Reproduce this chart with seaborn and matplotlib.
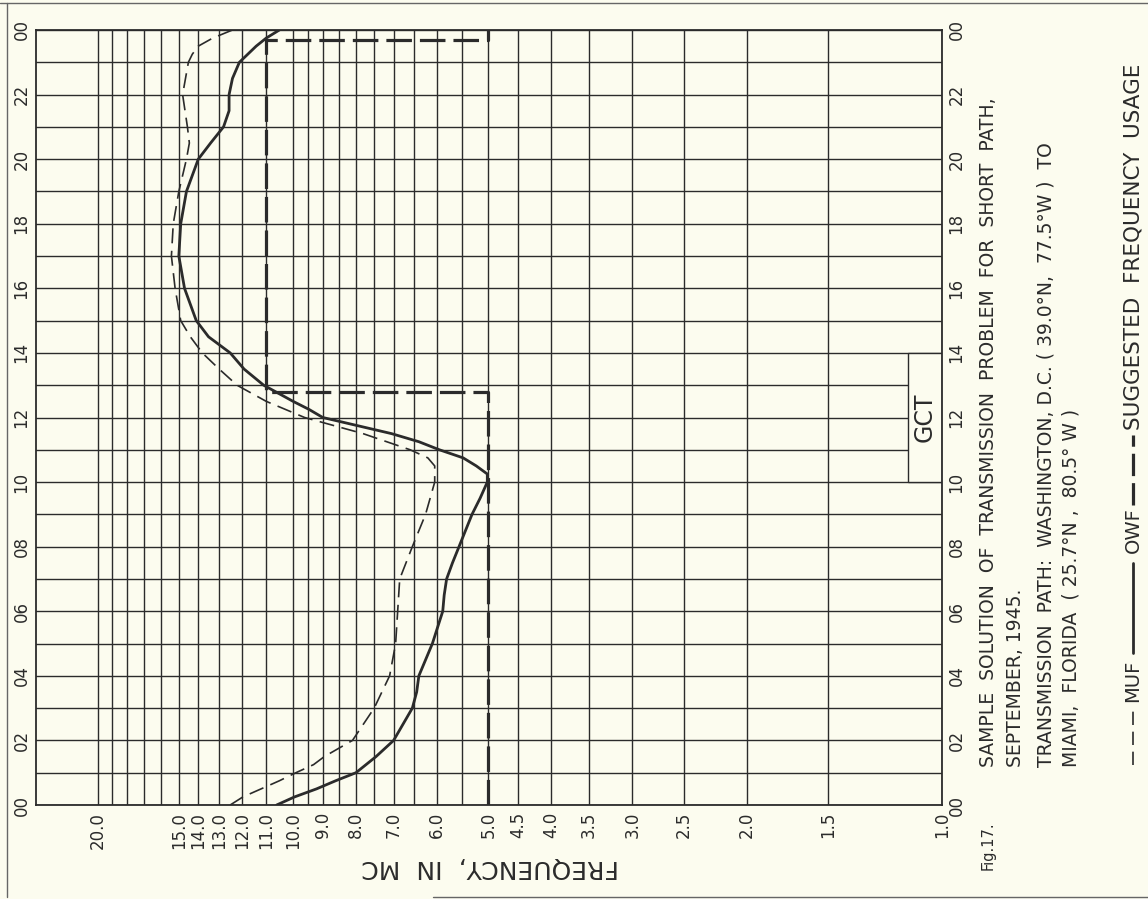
import seaborn as sns
import matplotlib.pyplot as plt
from matplotlib.lines import Line2D
from matplotlib.patches import Rectangle

# =========================
# DATA
# =========================
# OWF - solid line
owf_hours = [0, 0.25, 0.5, 0.75, 1, 1.5, 2, 3, 3.5, 4, 5, 6, 6.5, 7, 7.5, 8, 9, 9.5,
             10, 10.25, 10.5, 10.75, 11, 11.25, 11.5, 12, 12.25, 12.5, 13, 13.5,
             14, 14.5, 15, 16, 17, 18, 19, 20, 20.5, 21, 21.5, 22, 22.5, 23, 23.5,
             23.75, 24]
owf_freq = [10.6, 9.95, 9.2, 8.6, 8.0, 7.45, 7.0, 6.55, 6.45, 6.4, 6.1, 5.88, 5.85,
            5.8, 5.68, 5.55, 5.3, 5.15, 5.02, 5.02, 5.22, 5.47, 5.95, 6.4, 7.05,
            9.0, 9.45, 10.0, 11.1, 11.9, 12.5, 13.5, 14.1, 14.7, 15.0, 14.9, 14.6,
            14.0, 13.4, 12.8, 12.55, 12.55, 12.4, 12.1, 11.4, 11.0, 10.5]

# MUF - thin dashed line
muf_hours = [0, 0.25, 0.5, 0.75, 1, 1.25, 1.5, 2, 3, 4, 5, 6, 7, 8, 9, 10, 10.5,
             10.75, 11, 11.5, 12, 12.5, 13, 13.5, 14, 14.5, 15, 16, 17, 18, 19, 20,
             20.5, 21, 22, 23, 23.25, 23.5, 23.75, 24]
muf_freq = [12.5, 11.95, 11.2, 10.5, 9.9, 9.3, 8.95, 8.1, 7.5, 7.1, 6.95, 6.9, 6.85,
            6.55, 6.25, 6.05, 6.05, 6.2, 6.6, 7.8, 9.6, 11.0, 12.2, 13.0, 13.8,
            14.4, 14.9, 15.2, 15.4, 15.3, 15.0, 14.6, 14.45, 14.55, 14.8, 14.5,
            14.3, 14.0, 13.3, 12.4]

# suggested frequency usage - heavy dashed step
sfu_hours = [0, 12.8, 12.8, 23.7, 23.7, 24]
sfu_freq = [5.0, 5.0, 11.0, 11.0, 5.0, 5.0]

# grid / tick labels
freq_grid = [1.0, 1.5, 2.0, 2.5, 3.0, 3.5, 4.0, 4.5, 5.0, 5.5, 6.0, 6.5, 7.0, 7.5,
             8.0, 8.5, 9.0, 9.5, 10.0, 11.0, 12.0, 13.0, 14.0, 15.0, 16.0, 17.0,
             18.0, 19.0, 20.0]
freq_labels = ["1.0", "1.5", "2.0", "2.5", "3.0", "3.5", "4.0", "4.5", "5.0", "",
               "6.0", "", "7.0", "", "8.0", "", "9.0", "", "10.0", "11.0", "12.0",
               "13.0", "14.0", "15.0", "", "", "", "", "20.0"]
hour_ticks = list(range(25))
hour_labels = ["00", "", "02", "", "04", "", "06", "", "08", "", "10", "", "12", "",
               "14", "", "16", "", "18", "", "20", "", "22", "", "00"]

BG = "#fcfcef"
INK = "#2b2b2b"

sns.set_theme(style="white")
plt.rcParams["font.family"] = ["DejaVu Sans"]

W, H = 1148, 899
fig = plt.figure(figsize=(W / 100, H / 100), dpi=100, facecolor=BG)
ax = fig.add_axes([36 / W, 94 / H, 906 / W, 775 / H])
ax.set_facecolor(BG)

# =========================
# CURVES
# =========================
sns.lineplot(x=muf_freq, y=muf_hours, orient="y", sort=False, estimator=None,
             color=INK, lw=1.2, linestyle=(0, (9, 4.5)), ax=ax, zorder=3)
sns.lineplot(x=owf_freq, y=owf_hours, orient="y", sort=False, estimator=None,
             color=INK, lw=2.0, ax=ax, zorder=3)
sns.lineplot(x=sfu_freq, y=sfu_hours, orient="y", sort=False, estimator=None,
             color=INK, lw=2.3, linestyle=(0, (8, 2.5)), ax=ax, zorder=3)

# =========================
# AXES / GRID
# =========================
ax.set_xscale("log")
ax.set_xlim(24.9, 1.0)
ax.set_ylim(0, 24)
ax.minorticks_off()
ax.set_xticks(freq_grid)
ax.set_xticklabels(freq_labels)
ax.set_yticks(hour_ticks)
ax.set_yticklabels(hour_labels)
ax.set_axisbelow(True)
ax.grid(True, color=INK, lw=1.0)
ax.set_xlabel("")
ax.set_ylabel("")
for s in ax.spines.values():
    s.set_color(INK)
    s.set_linewidth(1.3)

ax.tick_params(axis="both", length=0, labelsize=12, colors=INK)
ax.tick_params(axis="x", pad=5)
ax.tick_params(axis="y", pad=4, labelright=True)
for t in ax.xaxis.get_major_ticks():
    t.label1.set_rotation(90)
    t.label1.set_va("top")
for t in ax.yaxis.get_major_ticks():
    t.label1.set_rotation(90)
    t.label1.set_va("center")
    t.label2.set_rotation(90)
    t.label2.set_va("center")

# GCT box
ax.add_patch(Rectangle((1.0, 10), 0.13, 4, facecolor=BG, edgecolor=INK,
                       lw=1.0, zorder=2))
ax.text(1.064, 12, "GCT", rotation=90, ha="center", va="center",
        fontsize=17, color=INK, zorder=4)

# axis title (upside down)
fig.text(490 / W, 1 - 867 / H, "FREQUENCY,  IN  MC", rotation=180,
         ha="center", va="center", fontsize=18, color=INK)

# =========================
# CAPTION
# =========================
def vtext(x, y, s, size):
    fig.text(x / W, 1 - y / H, s, rotation=90, rotation_mode="anchor",
             ha="left", va="center", fontsize=size, color=INK)

vtext(988, 870, "Fig.17.", 10.5)
vtext(988, 767, "SAMPLE  SOLUTION  OF  TRANSMISSION  PROBLEM  FOR  SHORT  PATH,", 13.5)
vtext(1016, 767, "SEPTEMBER, 1945.", 13.5)
vtext(1046, 767, "TRANSMISSION  PATH:  WASHINGTON, D.C. ( 39.0°N,  77.5°W )  TO", 13.5)
vtext(1071, 767, "MIAMI,  FLORIDA  ( 25.7°N ,  80.5° W )", 13.5)

# legend
LX = 1133
def vline(y0, y1, **kw):
    fig.add_artist(Line2D([LX / W, LX / W], [1 - y0 / H, 1 - y1 / H], color=INK, **kw))

vline(765, 708, lw=1.2, linestyle=(0, (8, 4)))
vtext(LX, 702, "MUF", 14)
vline(653, 563, lw=2.0)
vtext(LX, 553, "OWF", 14)
vline(505, 435, lw=2.3, linestyle=(0, (7, 2.2)))
vtext(LX, 430, "SUGGESTED  FREQUENCY  USAGE", 15.5)

# page edges of the scan
fig.add_artist(Line2D([0, 1], [1 - 3 / H, 1 - 3 / H], color="#666666", lw=1.0))
fig.add_artist(Line2D([7 / W, 7 / W], [1 - 3 / H, 1 - 897 / H], color="#666666", lw=1.0))
fig.add_artist(Line2D([433 / W, 1], [1 - 897 / H, 1 - 897 / H], color="#666666", lw=1.0))

fig.savefig("out.png", dpi=100, facecolor=BG)
